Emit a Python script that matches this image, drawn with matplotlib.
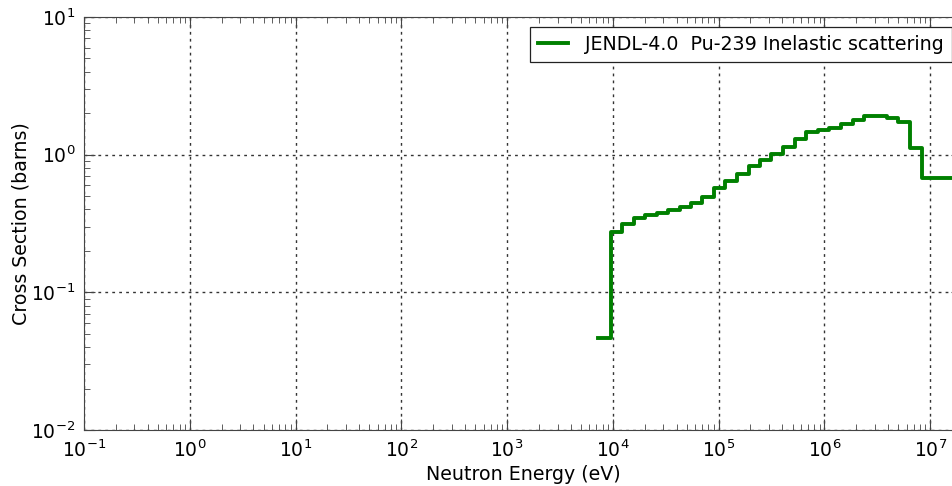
import matplotlib
matplotlib.use("Agg")
import matplotlib.pyplot as plt
import numpy as np

# Bin edges (eV) and cross-section values (barns) per bin
energy_edges = [7.2e3, 9.6e3, 1.22e4, 1.57e4, 2.03e4, 2.6e4, 3.3e4, 4.3e4, 5.5e4,
                7.0e4, 9.1e4, 1.16e5, 1.49e5, 1.92e5, 2.47e5, 3.16e5, 4.1e5,
                5.25e5, 6.7e5, 8.7e5, 1.11e6, 1.43e6, 1.85e6, 2.39e6, 3.04e6,
                3.9e6, 4.95e6, 6.4e6, 8.3e6, 2.0e7]
xs_values = [0.0466, 0.273, 0.314, 0.345, 0.365, 0.379, 0.397, 0.414, 0.443,
             0.496, 0.569, 0.64, 0.724, 0.822, 0.915, 1.01, 1.13, 1.31, 1.45,
             1.50, 1.56, 1.67, 1.80, 1.90, 1.91, 1.85, 1.73, 1.12, 0.677]
series_label = "JENDL-4.0  Pu-239 Inelastic scattering"

plt.rcParams['font.family'] = ['DejaVu Sans']
plt.rcParams['mathtext.fontset'] = 'dejavusans'

fig = plt.figure(figsize=(9.53, 4.86), dpi=100)
ax = fig.add_axes([84/953, 56/486, (962-84)/953, (430-17)/486])

y_step = list(xs_values) + [xs_values[-1]]
ax.step(energy_edges, y_step, where='post', color='green', lw=2.8, label=series_label)

ax.set_xscale('log')
ax.set_yscale('log')
ax.set_xlim(1e-1, 2e7)
ax.set_ylim(1e-2, 1e1)
ax.set_xticks([10.0**k for k in range(-1, 8)])
ax.set_yticks([10.0**k for k in range(-2, 2)])

ax.grid(True, which='major', linestyle=(0, (2, 3)), color='#333333', lw=1)
ax.tick_params(which='both', direction='in', top=True, right=True, labelsize=13.5,
               color='#444444')
ax.tick_params(which='major', length=8)
ax.tick_params(which='minor', length=4)
ax.tick_params(axis='x', pad=7)
ax.tick_params(axis='y', pad=6)
for s in ax.spines.values():
    s.set_color('#444444')

ax.set_xlabel("Neutron Energy (eV)", fontsize=13.7, labelpad=3)
ax.set_ylabel("Cross Section (barns)", fontsize=13.7, labelpad=1)

leg = ax.legend(loc='upper right', fontsize=13.7, fancybox=False, framealpha=1,
                edgecolor='#222222', handlelength=1.6, handletextpad=0.9,
                borderaxespad=0.55, borderpad=0.4)
leg.get_frame().set_linewidth(0.9)

fig.savefig("out.png", dpi=100, facecolor='white')
